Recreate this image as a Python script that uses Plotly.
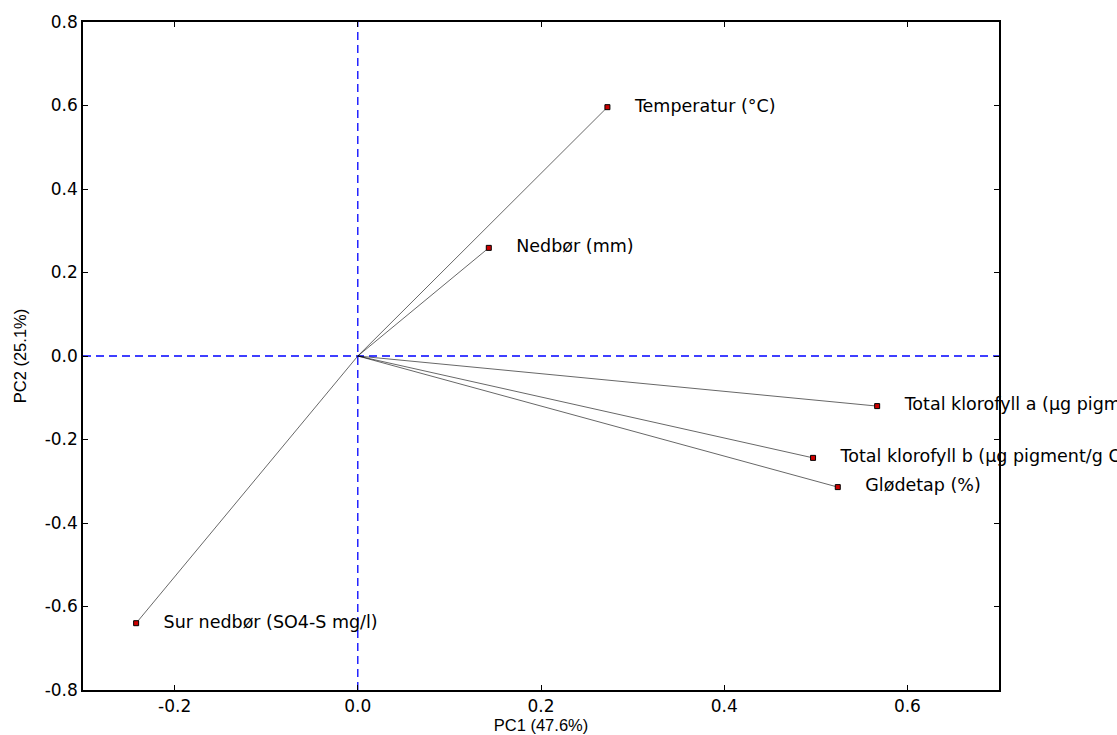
import plotly.graph_objects as go

labels = [
    "Temperatur (°C)",
    "Nedbør (mm)",
    "Total klorofyll a (µg pigment/g OM)",
    "Total klorofyll b (µg pigment/g OM)",
    "Glødetap (%)",
    "Sur nedbør (SO4-S mg/l)",
]
pc1 = [0.2725, 0.143, 0.567, 0.497, 0.524, -0.242]
pc2 = [0.596, 0.259, -0.120, -0.244, -0.314, -0.640]

x_ticks = [-0.2, 0.0, 0.2, 0.4, 0.6]
x_ticktext = ["-0.2", "0.0", "0.2", "0.4", "0.6"]
y_ticks = [-0.8, -0.6, -0.4, -0.2, 0.0, 0.2, 0.4, 0.6, 0.8]
y_ticktext = ["-0.8", "-0.6", "-0.4", "-0.2", "0.0", "0.2", "0.4", "0.6", "0.8"]

x_range = [-0.3, 0.7]
y_range = [-0.8, 0.8]
label_offset = 0.03

fig = go.Figure()

# dashed reference lines through origin
fig.add_trace(go.Scatter(x=x_range, y=[0, 0], mode="lines",
                         line=dict(color="#0000ff", width=1.3, dash="8px,5px"),
                         hoverinfo="skip", showlegend=False))
fig.add_trace(go.Scatter(x=[0, 0], y=y_range, mode="lines",
                         line=dict(color="#0000ff", width=1.3, dash="8px,5px"),
                         hoverinfo="skip", showlegend=False))

# vectors from origin
for xv, yv in zip(pc1, pc2):
    fig.add_trace(go.Scatter(x=[0, xv], y=[0, yv], mode="lines",
                             line=dict(color="#000000", width=0.6),
                             hoverinfo="skip", showlegend=False))

# endpoint markers
fig.add_trace(go.Scatter(x=pc1, y=pc2, mode="markers",
                         marker=dict(symbol="square", size=5, color="#cc0000",
                                     line=dict(color="black", width=1)),
                         showlegend=False, cliponaxis=False))

# labels
fig.add_trace(go.Scatter(x=[v + label_offset for v in pc1], y=pc2, mode="text",
                         text=labels, textposition="middle right",
                         textfont=dict(family="DejaVu Sans", size=17.5, color="black"),
                         showlegend=False, cliponaxis=False))

axis_common = dict(
    showline=True, linecolor="black", linewidth=1.5, mirror="allticks",
    ticks="inside", ticklen=5, tickwidth=1, tickcolor="black",
    showgrid=False, zeroline=False, automargin=False,
    tickfont=dict(family="DejaVu Sans", size=17, color="black"),
)

fig.update_xaxes(range=x_range, tickvals=x_ticks, ticktext=x_ticktext,
                 title=dict(text="PC1 (47.6%)", standoff=4,
                            font=dict(family="Liberation Sans", size=16.5, color="black")),
                 **axis_common)
fig.update_yaxes(range=y_range, tickvals=y_ticks, ticktext=y_ticktext,
                 title=dict(text="PC2 (25.1%)", standoff=14,
                            font=dict(family="Liberation Sans", size=16.5, color="black")),
                 **axis_common)

fig.update_layout(
    width=1117, height=735,
    margin=dict(l=83, r=118, t=22, b=45),
    plot_bgcolor="white", paper_bgcolor="white",
    showlegend=False,
)

fig.write_html("out.html")
